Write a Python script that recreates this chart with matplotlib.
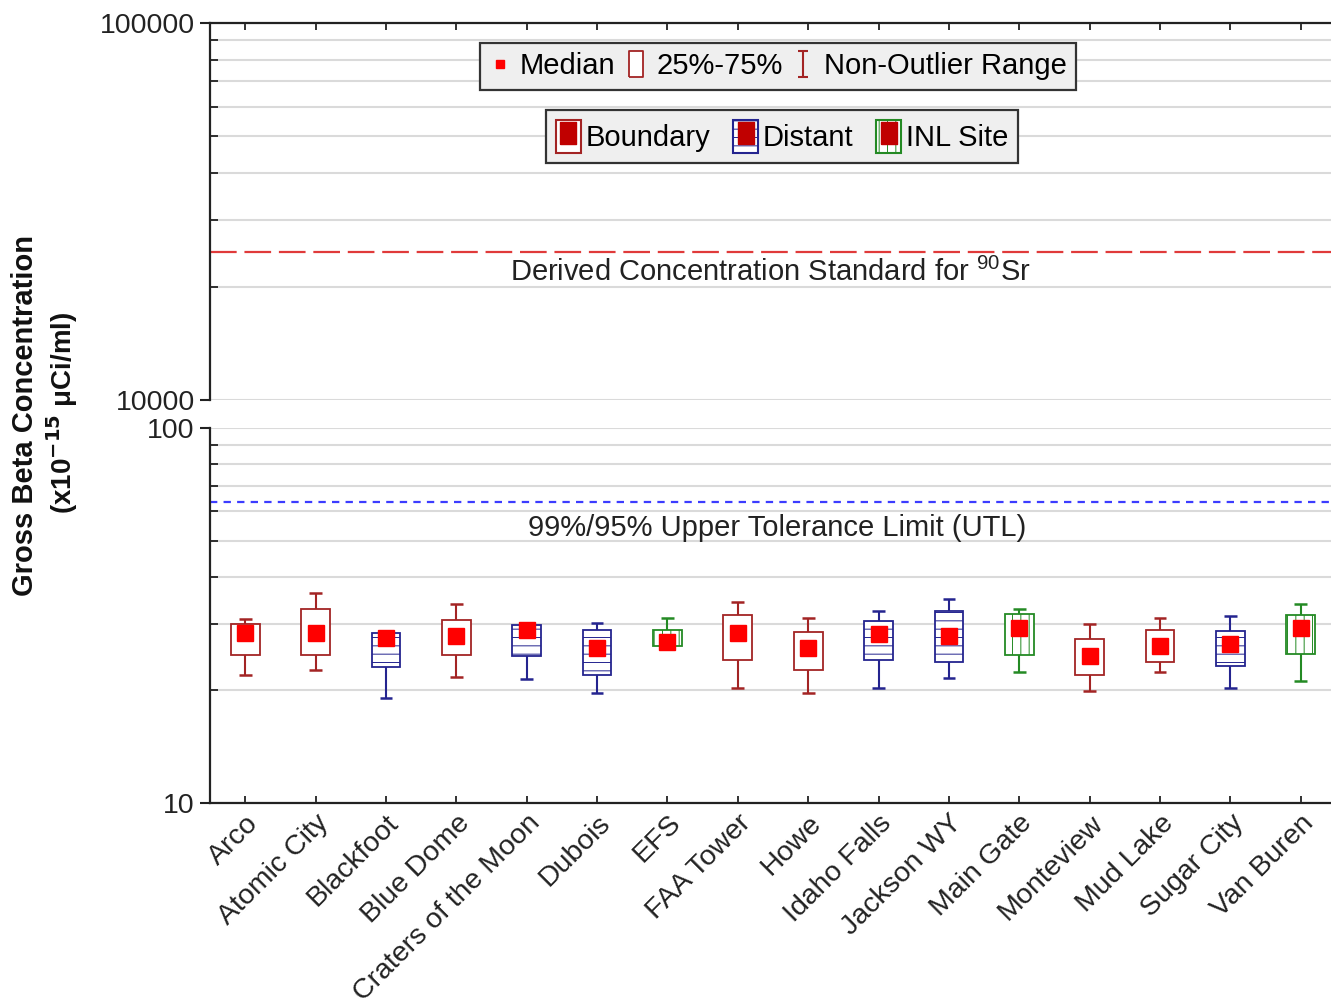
#Gross beta box plot with a broken log axis
import matplotlib
matplotlib.use('Agg')
import matplotlib.pyplot as plt
from matplotlib.lines import Line2D
from matplotlib.patches import Patch
from matplotlib.path import Path
from matplotlib.legend_handler import HandlerTuple
from matplotlib.ticker import FixedLocator, FixedFormatter, NullFormatter

plt.rcParams['font.family'] = ['Liberation Sans', 'DejaVu Sans']
plt.rcParams['hatch.linewidth'] = 0.7
plt.rcParams['mathtext.default'] = 'regular'

#Data
sites = ['Arco', 'Atomic City', 'Blackfoot', 'Blue Dome', 'Craters of the Moon',
         'Dubois', 'EFS', 'FAA Tower', 'Howe', 'Idaho Falls', 'Jackson WY',
         'Main Gate', 'Monteview', 'Mud Lake', 'Sugar City', 'Van Buren']
groups = ['Boundary', 'Boundary', 'Distant', 'Boundary', 'Distant',
          'Distant', 'INL Site', 'Boundary', 'Boundary', 'Distant', 'Distant',
          'INL Site', 'Boundary', 'Boundary', 'Distant', 'INL Site']
whisk_lo = [21.9, 22.6, 19.1, 21.7, 21.4, 19.6, 26.3, 20.3, 19.6, 20.3, 21.6, 22.4, 19.9, 22.4, 20.3, 21.1]
q25 = [24.8, 24.8, 23.0, 24.8, 24.7, 21.9, 26.3, 24.1, 22.6, 24.0, 23.7, 24.8, 22.0, 23.8, 23.2, 25.0]
median = [28.4, 28.4, 27.5, 27.9, 28.9, 25.9, 26.9, 28.4, 25.9, 28.2, 27.8, 29.2, 24.6, 26.3, 26.5, 29.2]
q75 = [30.0, 32.9, 28.4, 30.8, 29.8, 28.9, 28.9, 31.7, 28.5, 30.6, 32.5, 31.9, 27.4, 29.0, 28.8, 31.7]
whisk_hi = [30.9, 36.4, 28.8, 33.9, 29.8, 30.2, 31.1, 34.4, 31.2, 32.6, 34.9, 33.0, 30.0, 31.2, 31.5, 33.9]

dcs = 24700   #Derived Concentration Standard for 90Sr
utl = 63.5    #99%/95% upper tolerance limit

colors = {'Boundary': '#a32424', 'Distant': '#24248f', 'INL Site': '#248a24'}
hatches = {'Boundary': None, 'Distant': '--', 'INL Site': '||'}

fig = plt.figure(figsize=(13.31, 10.06), dpi=100)
W, H = 1331.0, 1006.0
left = 210 / W
width = (1336 - 210) / W
ax_top = fig.add_axes([left, 1 - 400 / H, width, (400 - 23) / H])
ax_bot = fig.add_axes([left, 1 - 803 / H, width, (803 - 428) / H])

xs = list(range(len(sites)))
bw = 0.41
cw = 0.18

#Boxes, whiskers and medians on the lower axis
for i in xs:
    g = groups[i]
    c = colors[g]
    ax_bot.bar(i, q75[i] - q25[i], bottom=q25[i], width=bw, facecolor='white',
               edgecolor=c, hatch=hatches[g], linewidth=1.3, zorder=3)
    ax_bot.vlines(i, q75[i], whisk_hi[i], color=c, linewidth=1.5, zorder=3)
    ax_bot.vlines(i, whisk_lo[i], q25[i], color=c, linewidth=1.5, zorder=3)
    ax_bot.hlines([whisk_lo[i], whisk_hi[i]], i - cw / 2, i + cw / 2, color=c, linewidth=1.8, zorder=3)
ax_bot.plot(xs, median, 's', color='#ff0000', markersize=12, zorder=4, linestyle='none')

#Reference lines
ax_top.axhline(dcs, color='#e03a3a', linewidth=1.6, dashes=(12, 3.5), zorder=2)
ax_top.text(7.46, 21800, 'Derived Concentration Standard for $^{90}$Sr', ha='center', va='center',
            fontsize=21, color='#222222')
ax_bot.axhline(utl, color='#3c3cff', linewidth=1.6, dashes=(3.3, 2.8), zorder=2)
ax_bot.text(7.56, 54.1, '99%/95% Upper Tolerance Limit (UTL)', ha='center', va='center',
            fontsize=21, color='#222222')

#Axes styling
for ax, lo, hi in [(ax_top, 10000, 100000), (ax_bot, 10, 100)]:
    ax.set_yscale('log')
    ax.set_ylim(lo, hi)
    ax.set_xlim(-0.5, 15.5)
    ax.set_xticks(xs)
    ax.yaxis.set_major_locator(FixedLocator([lo, hi]))
    ax.yaxis.set_major_formatter(FixedFormatter([str(lo), str(hi)]))
    ax.yaxis.set_minor_locator(FixedLocator([lo * k for k in range(2, 10)]))
    ax.yaxis.set_minor_formatter(NullFormatter())
    ax.grid(True, axis='y', which='both', color='#dadada', linewidth=1.5, zorder=0)
    ax.set_axisbelow(True)
    ax.tick_params(axis='y', which='major', direction='out', length=7, width=1.5, labelsize=20.5,
                   colors='#222222', pad=4)
    ax.tick_params(axis='y', which='minor', direction='in', length=6, width=1.3, colors='#222222')
    ax.spines['right'].set_visible(False)
    ax.spines['left'].set_linewidth(1.6)
    ax.spines['left'].set_color('#222222')

ax_top.spines['bottom'].set_visible(False)
ax_top.spines['top'].set_linewidth(1.6)
ax_top.spines['top'].set_color('#222222')
ax_top.xaxis.tick_top()
ax_top.tick_params(axis='x', which='major', direction='in', length=5, width=1.3, labeltop=False,
                   colors='#222222')

ax_bot.spines['top'].set_visible(False)
ax_bot.spines['bottom'].set_linewidth(1.6)
ax_bot.spines['bottom'].set_color('#222222')
ax_bot.tick_params(axis='x', which='major', direction='in', length=5, width=1.3, colors='#222222',
                   labelsize=20.5, pad=5)
ax_bot.set_xticklabels(sites, rotation=45, ha='right', rotation_mode='anchor')

#Y label
fig.text(25 / W, 1 - 415 / H, 'Gross Beta Concentration', rotation=90, ha='center', va='center',
         fontsize=21, fontweight='bold', color='#111111')
fig.text(62 / W, 1 - 413 / H, '(x10$^{\\mathbf{-15}}$ \u03bcCi/ml)', rotation=90, ha='center',
         va='center', fontsize=20, fontweight='bold', color='#111111')

#Legend 1: statistic keys
ibeam = Path([(-0.35, 1), (0.35, 1), (0, 1), (0, -1), (-0.35, -1), (0.35, -1)],
             [Path.MOVETO, Path.LINETO, Path.MOVETO, Path.LINETO, Path.MOVETO, Path.LINETO])
tall = Path([(-0.28, -0.5), (0.28, -0.5), (0.28, 0.5), (-0.28, 0.5), (-0.28, -0.5)])
h_med = Line2D([], [], marker='s', color='#ff0000', markersize=6, linestyle='none')
h_box = Line2D([], [], marker=tall, markerfacecolor='white', markeredgecolor=colors['Boundary'],
               markeredgewidth=1.3, markersize=19, linestyle='none')
h_rng = Line2D([], [], marker=ibeam, color=colors['Boundary'], markeredgewidth=1.5,
               markersize=19, linestyle='none')
leg1 = fig.legend([h_med, h_box, h_rng], ['Median', '25%-75%', 'Non-Outlier Range'],
                  loc='center', bbox_to_anchor=(778 / W, 1 - 66.5 / H), ncol=3, fontsize=21,
                  frameon=True, fancybox=False, edgecolor='#333333', facecolor='#efefef',
                  framealpha=1, handlelength=0.7, handletextpad=0.35, columnspacing=0.35,
                  borderpad=0.32, borderaxespad=0)
leg1.get_frame().set_linewidth(1.6)

#Legend 2: site groups
inner = Path([(-0.34, -0.5), (0.34, -0.5), (0.34, 0.5), (-0.34, 0.5), (-0.34, -0.5)])
handles2 = []
for g in ['Boundary', 'Distant', 'INL Site']:
    p = Patch(facecolor='white', edgecolor=colors[g], hatch=hatches[g], linewidth=1.5)
    m = Line2D([], [], marker=inner, color='#c00000', markersize=16, linestyle='none')
    handles2.append((p, m))
leg2 = fig.legend(handles2, ['Boundary', 'Distant', 'INL Site'], loc='center',
                  bbox_to_anchor=(782 / W, 1 - 136.5 / H), ncol=3, fontsize=21,
                  handler_map={tuple: HandlerTuple(ndivide=1)},
                  frameon=True, fancybox=False, edgecolor='#333333', facecolor='#efefef',
                  framealpha=1, handlelength=0.85, handleheight=1.35, handletextpad=0.15,
                  columnspacing=0.8, borderpad=0.35, borderaxespad=0)
leg2.get_frame().set_linewidth(1.6)

plt.savefig('out.png', dpi=100)
